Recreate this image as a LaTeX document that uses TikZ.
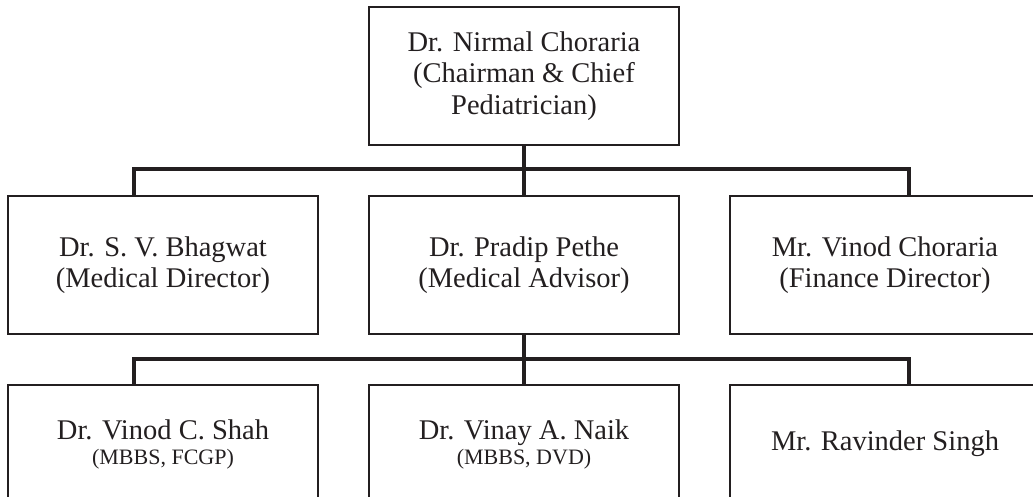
\documentclass[tikz,border=0pt]{standalone}
\usepackage{fontspec}
\setmainfont{Liberation Serif}
\usepackage{tikz}
\usetikzlibrary{positioning}
\definecolor{ink}{HTML}{231F20}

\begin{document}
\begin{tikzpicture}[
    node distance=51pt,
    box/.style={rectangle, draw=ink, line width=1.8pt, minimum width=310pt, minimum height=138pt, inner sep=0pt, outer sep=0pt, align=center, text=ink, font=\fontsize{28.5}{31.5}\selectfont},
    lowbox/.style={box, minimum height=118pt},
    link/.style={draw=ink, line width=4.8pt}
]
\useasboundingbox (-524pt,-421pt) rectangle (509pt,76pt);
\clip (-524pt,-421pt) rectangle (509pt,76pt);

\node[box] (chair) at (0,0) {Dr. Nirmal Choraria\\(Chairman \& Chief\\Pediatrician)};
\node[box, below=of chair] (pethe) {Dr. Pradip Pethe\\(Medical Advisor)};
\node[box, left=of pethe] (bhagwat) {Dr. S. V. Bhagwat\\(Medical Director)};
\node[box, right=of pethe] (vchoraria) {Mr. Vinod Choraria\\(Finance Director)};
\node[lowbox, below=of pethe] (naik) {Dr. Vinay A. Naik\\[-6.5pt]{\fontsize{22}{20}\selectfont (MBBS, DVD)}};
\node[lowbox, left=of naik] (shah) {Dr. Vinod C. Shah\\[-6.5pt]{\fontsize{22}{20}\selectfont (MBBS, FCGP)}};
\node[lowbox, right=of naik] (singh) {Mr. Ravinder Singh};

\draw[link] (chair.south) -- (pethe.north);
\draw[link] ([xshift=-29pt]bhagwat.north) -- ++(0,27pt) -| ([xshift=24pt]vchoraria.north);
\draw[link] (pethe.south) -- (naik.north);
\draw[link] ([xshift=-29pt]shah.north) -- ++(0,26pt) -| ([xshift=24pt]singh.north);

\end{tikzpicture}
\end{document}
